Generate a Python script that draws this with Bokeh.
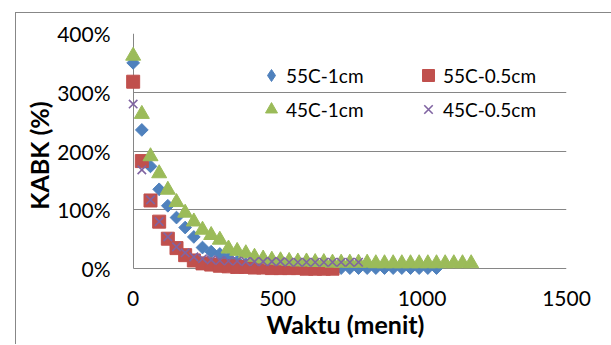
import math
from bokeh.plotting import figure
from bokeh.models import Range1d, FixedTicker, NumeralTickFormatter, Grid, Legend, LegendItem
from bokeh.embed import file_html
from bokeh.resources import INLINE

# ---- data ----
waktu = [0, 30, 60, 90, 120, 150, 180, 210, 240, 270, 300, 330, 360, 390, 420, 450,
         480, 510, 540, 570, 600, 630, 660, 690, 720, 750, 780, 810, 840, 870, 900,
         930, 960, 990, 1020, 1050, 1080, 1110, 1140, 1170]

kabk_55C_1cm = [350, 236, 174, 135, 107, 87, 70, 54, 36, 29, 25, 18, 12, 8, 6, 5, 4, 3,
                3, 2, 2, 2, 2, 1, 1, 1, 1, 1, 1, 1, 1, 1, 1, 1, 1, 1]
kabk_55C_05cm = [318, 183, 116, 80, 51, 35, 23, 14, 9, 7, 5, 4, 3, 3, 2, 2, 1, 1, 1, 1,
                 0, 0, 0, 0]
kabk_45C_1cm = [362, 263, 191, 162, 134, 113, 95, 80, 66, 57, 49, 34, 30, 26, 20, 17, 15,
                14, 13, 12, 12, 11, 11, 10, 10, 10, 10, 10, 9, 9, 9, 9, 9, 9, 9, 9, 9, 9, 9, 9]
kabk_45C_05cm = [280, 168, 117, 80, 54, 37, 27, 20, 17, 15, 14, 13, 13, 12, 12, 12, 12, 12,
                 11, 11, 11, 11, 11, 11, 11, 11, 11]

series_names = ["55C-1cm", "55C-0.5cm", "45C-1cm", "45C-0.5cm"]
x_ticks = [0, 500, 1000, 1500]
y_ticks = [0, 1, 2, 3, 4]
x_title = "Waktu (menit)"
y_title = "KABK (%)"

FONT = "Lato"
GRID = "#868686"

p = figure(width=596, height=332, output_backend="svg", toolbar_location=None, title=None,
           x_range=Range1d(-30, 1500), y_range=Range1d(-0.15, 4),
           min_border_left=108, min_border_right=46, min_border_top=20, min_border_bottom=68)
p.styles = {"margin-left": "15px", "margin-top": "12px",
            "border-left": "1px solid #878787", "border-top": "1px solid #878787"}
p.outline_line_color = None
p.background_fill_color = "white"

# axes
for ax in (p.xaxis[0], p.yaxis[0]):
    ax.axis_line_color = None
    ax.major_tick_line_color = None
    ax.minor_tick_line_color = None
    ax.major_tick_out = 0
    ax.major_tick_in = 0
    ax.major_label_text_font = FONT
    ax.major_label_text_font_size = "21px"
    ax.major_label_text_color = "#000000"
    ax.axis_label_text_font = FONT
    ax.axis_label_text_font_style = "bold"
    ax.axis_label_text_font_size = "25px"
    ax.axis_label_text_color = "#000000"

p.xaxis.ticker = FixedTicker(ticks=x_ticks)
p.yaxis.ticker = FixedTicker(ticks=y_ticks)
p.yaxis.formatter = NumeralTickFormatter(format="0%")
p.xaxis.axis_label = x_title
p.yaxis.axis_label = y_title
p.xaxis.major_label_standoff = 13
p.yaxis.major_label_standoff = 14
p.xaxis.axis_label_standoff = 0
p.yaxis.axis_label_standoff = 0

# grid
p.xgrid.visible = False
p.ygrid.ticker = FixedTicker(ticks=y_ticks)
p.ygrid.grid_line_color = GRID
p.ygrid.grid_line_width = 1
p.ygrid.cross_bounds = (0, 1500)
vline = Grid(dimension=0, ticker=FixedTicker(ticks=[0]), cross_bounds=(0, 4),
             grid_line_color=GRID, grid_line_width=1)
p.add_layout(vline)

# series
def frac(v):
    return [a / 100.0 for a in v]

BLUE, RED, GREEN, PURPLE = "#4F81BD", "#C0504D", "#9BBB59", "#8064A2"

r1 = p.scatter(waktu[:len(kabk_55C_1cm)], frac(kabk_55C_1cm), marker="square",
               angle=math.pi / 4, size=9, fill_color=BLUE, line_color=BLUE)
r2 = p.scatter(waktu[:len(kabk_55C_05cm)], frac(kabk_55C_05cm), marker="square",
               size=13, fill_color=RED, line_color=RED)
r3 = p.scatter(waktu[:len(kabk_45C_1cm)], frac(kabk_45C_1cm), marker="triangle",
               size=15, fill_color=GREEN, line_color=GREEN)
r4 = p.scatter(waktu[:len(kabk_45C_05cm)], frac(kabk_45C_05cm), marker="x",
               size=12, line_color=PURPLE, line_width=1.6)
# legend proxy for the diamond (legend glyphs are drawn without rotation)
r1_leg = p.scatter(waktu[:len(kabk_55C_1cm)], frac(kabk_55C_1cm), marker="diamond",
                   fill_color=BLUE, line_color=BLUE, visible=False)

def make_legend(items, loc):
    lg = Legend(items=items, location=loc, orientation="vertical",
                glyph_width=30, glyph_height=30, label_height=30, label_standoff=0,
                spacing=4, padding=0, margin=0, border_line_color=None,
                background_fill_alpha=0, inactive_fill_alpha=0,
                label_text_font=FONT, label_text_font_size="19px", label_text_color="#000000")
    p.add_layout(lg)

make_legend([LegendItem(label=series_names[0], renderers=[r1_leg]),
             LegendItem(label=series_names[2], renderers=[r3])], (132, 153))
make_legend([LegendItem(label=series_names[1], renderers=[r2]),
             LegendItem(label=series_names[3], renderers=[r4])], (289, 153))

open("out.html", "w").write(file_html(p, INLINE))
